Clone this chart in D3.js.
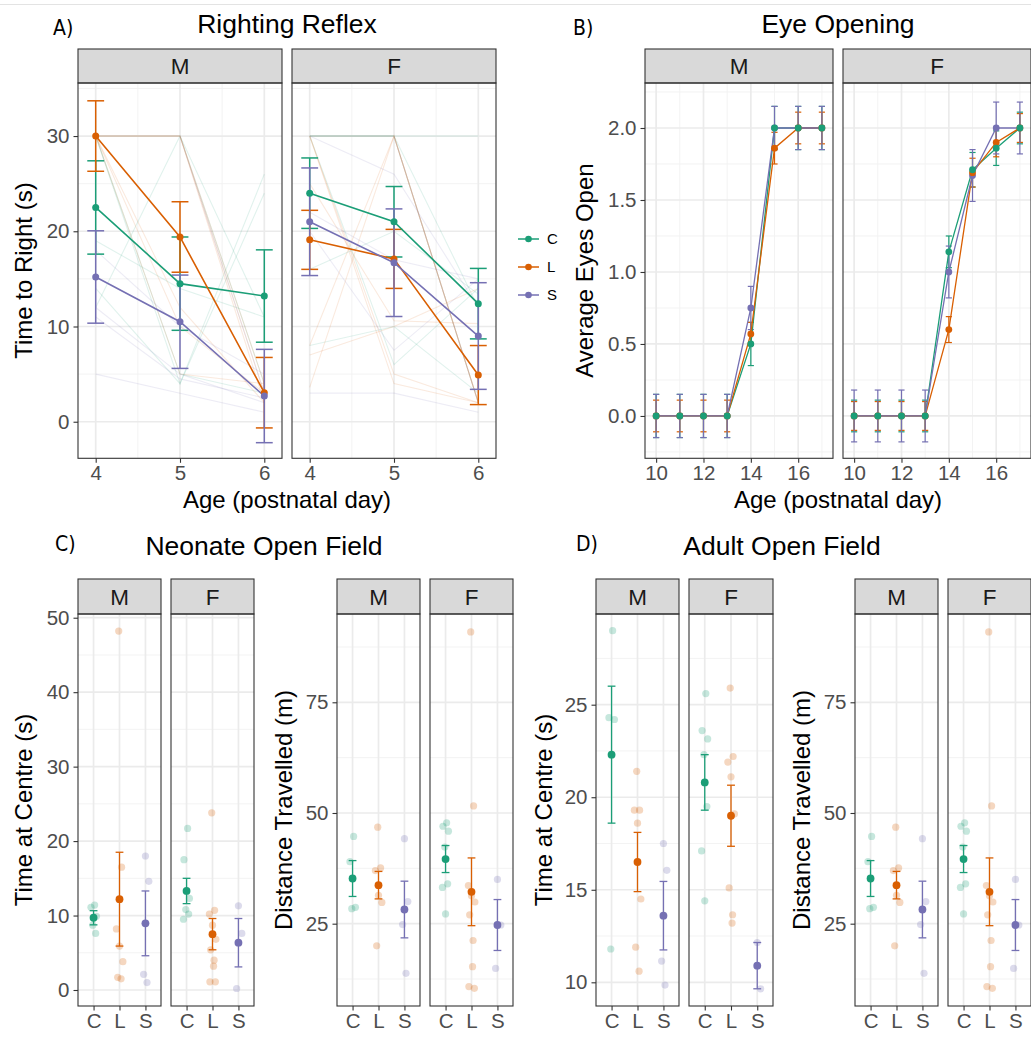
<!DOCTYPE html>
<html>
<head>
<meta charset="utf-8">
<script src="https://cdn.jsdelivr.net/npm/d3@7"></script>
<style>
  body { margin: 0; background: #fff; }
</style>
</head>
<body>
<script>
// groups and colours
const groups = ["C", "L", "S"];
const groupColors = ["#1b9e77", "#d95f02", "#7570b3"];

// A) Righting reflex - per group C, L, S at days 4, 5, 6
const rrDays = [4, 5, 6];
const rrMeanM = [[22.5, 14.5, 13.2], [30, 19.4, 3.05], [15.2, 10.5, 2.7]];
const rrSeM = [[4.9, 4.9, 4.85], [3.7, 3.7, 3.7], [4.85, 4.9, 4.9]];
const rrMeanF = [[24, 21, 12.4], [19.1, 17.1, 4.9], [21, 16.7, 9]];
const rrSeF = [[3.7, 3.7, 3.7], [3.1, 3.1, 3.1], [5.65, 5.65, 5.6]];
// individual pups (faint lines)
const rrPupsM = [
  [[30, 5, 3], [30, 4, 26], [30, 30, 11], [12, 30, 4], [19, 14, 11], [14, 4, 24]],
  [[30, 30, 2], [30, 30, 3], [30, 30, 4], [30, 12, 2], [30, 10, 3], [30, 5, 4]],
  [[5, 3, 1], [12, 5, 2], [30, 30, 3], [18, 10, 5], [11, 4.5, 2.5]]
];
const rrPupsF = [
  [[30, 30, 30], [30, 30, 2], [30, 30, 12], [30, 6, 14], [16, 20, 13.4], [8, 10, 3]],
  [[30, 30, 2], [30, 4, 2], [30, 5, 2], [8, 30, 2], [7, 10, 14], [3.6, 30, 2], [25, 10.6, 10.3]],
  [[30, 26, 12], [30, 30, 2], [3, 3, 1], [22, 17, 15], [20, 7.5, 15]]
];
const rrYTicks = [0, 10, 20, 30];
const rrXTicks = [4, 5, 6];

// B) Eye opening - days 10..17
const eoDays = [10, 11, 12, 13, 14, 15, 16, 17];
const eoMeanM = [
  [0, 0, 0, 0, 0.5, 2, 2, 2],
  [0, 0, 0, 0, 0.57, 1.86, 2, 2],
  [0, 0, 0, 0, 0.75, 2, 2, 2]
];
const eoSeM = [
  [0.15, 0.15, 0.15, 0.15, 0.15, 0.15, 0.15, 0.15],
  [0.11, 0.11, 0.11, 0.11, 0.08, 0.11, 0.11, 0.11],
  [0.15, 0.15, 0.15, 0.15, 0.15, 0.15, 0.15, 0.15]
];
const eoMeanF = [
  [0, 0, 0, 0, 1.14, 1.71, 1.86, 2],
  [0, 0, 0, 0, 0.6, 1.69, 1.9, 2],
  [0, 0, 0, 0, 1.0, 1.67, 2, 2]
];
const eoSeF = [
  [0.11, 0.11, 0.11, 0.11, 0.11, 0.12, 0.12, 0.11],
  [0.1, 0.1, 0.1, 0.1, 0.09, 0.1, 0.1, 0.1],
  [0.18, 0.18, 0.18, 0.18, 0.18, 0.18, 0.18, 0.18]
];
const eoYTicks = [0, 0.5, 1, 1.5, 2];
const eoXTicks = [10, 12, 14, 16];

// C) Neonate open field - time at centre
const neoTimeMeanM = [9.7, 12.2, 8.95];
const neoTimeSeM = [0.95, 6.3, 4.35];
const neoTimePtsM = [[11.4, 11.1, 9.9, 8.7, 7.6], [48.2, 16.5, 8.2, 5.9, 3.8, 1.7, 1.5], [18.0, 14.6, 2.1, 1.0]];
const neoTimeMeanF = [13.3, 7.5, 6.35];
const neoTimeSeF = [1.7, 2.1, 3.25];
const neoTimePtsF = [[21.7, 17.5, 12.3, 10.8, 10.2, 9.5], [23.8, 10.7, 10.2, 8.7, 6.8, 5.4, 4.0, 3.2, 1.1, 1.1], [11.3, 7.6, 0.2]];
// C) Neonate open field - distance travelled
const neoDistMeanM = [35.2, 33.7, 28.2];
const neoDistSeM = [4.05, 3.1, 6.4];
const neoDistPtsM = [[44.7, 39.0, 28.7, 28.4], [46.8, 37.6, 37.0, 31.4, 29.8, 20.0], [44.2, 30.0, 24.8, 13.8]];
const neoDistMeanF = [39.6, 32.2, 24.7];
const neoDistSeF = [3.05, 7.65, 5.75];
const neoDistPtsF = [[47.8, 47.0, 45.9, 42.3, 34.0, 33.2, 27.2], [90.9, 51.6, 33.6, 31.3, 29.9, 27.0, 21.2, 15.3, 10.8, 10.4], [35.0, 24.7, 14.9]];

// D) Adult open field - time at centre
const adTimeMeanM = [22.3, 16.5, 13.6];
const adTimeSeM = [3.7, 1.6, 1.85];
const adTimePtsM = [[29.0, 24.3, 24.2, 11.8], [21.4, 19.3, 19.3, 18.6, 14.5, 11.9, 10.6], [17.5, 16.05, 11.15, 9.85]];
const adTimeMeanF = [20.8, 19.0, 10.9];
const adTimeSeF = [1.5, 1.65, 1.25];
const adTimePtsF = [[25.6, 23.6, 23.15, 22.3, 19.5, 17.1, 14.4], [25.9, 22.2, 21.9, 21.1, 19.1, 15.1, 13.65, 13.2], [12.15, 9.65]];
// D) Adult open field - distance travelled
const adDistMeanM = [35.2, 33.7, 28.2];
const adDistSeM = [4.05, 3.1, 6.4];
const adDistPtsM = [[44.7, 39.0, 28.7, 28.4], [46.8, 37.6, 37.0, 31.4, 29.8, 20.0], [44.2, 30.0, 24.8, 13.8]];
const adDistMeanF = [39.6, 32.2, 24.7];
const adDistSeF = [3.05, 7.65, 5.75];
const adDistPtsF = [[47.8, 47.0, 45.9, 42.3, 34.0, 33.2, 27.2], [90.9, 51.6, 33.6, 31.3, 29.9, 27.0, 21.2, 15.3, 10.8, 10.4], [35.0, 24.7, 14.9]];

const jitterPattern = [0.04, -0.1, 0.11, -0.03, 0.08, -0.12, 0.0, 0.13, -0.07, 0.06];

const FONT = "'Liberation Sans', Arial, Helvetica, sans-serif";
const W = 1031, H = 1038;

const svg = d3.select("body").append("svg")
  .attr("width", W).attr("height", H)
  .style("font-family", FONT);

svg.append("line")
  .attr("x1", 0).attr("x2", W).attr("y1", 4.5).attr("y2", 4.5)
  .attr("stroke", "#e3e3e3").attr("stroke-width", 1.2);

// draw one facet panel: background, grid, strip, border and axes
function frame(o) {
  const g = svg.append("g");
  const inY = v => v >= o.y.domain()[0] && v <= o.y.domain()[1];
  g.append("rect")
    .attr("x", o.x0).attr("y", o.top)
    .attr("width", o.x1 - o.x0).attr("height", o.bottom - o.top)
    .attr("fill", "#fff");
  g.selectAll(".ymin").data(o.yMinor.filter(inY)).join("line")
    .attr("x1", o.x0).attr("x2", o.x1)
    .attr("y1", d => o.y(d)).attr("y2", d => o.y(d))
    .attr("stroke", "#f2f2f2").attr("stroke-width", 0.9);
  g.selectAll(".xmin").data(o.xMinor).join("line")
    .attr("x1", d => o.x(d)).attr("x2", d => o.x(d))
    .attr("y1", o.top).attr("y2", o.bottom)
    .attr("stroke", "#f2f2f2").attr("stroke-width", 0.9);
  g.selectAll(".ymaj").data(o.yMajor.filter(inY)).join("line")
    .attr("x1", o.x0).attr("x2", o.x1)
    .attr("y1", d => o.y(d)).attr("y2", d => o.y(d))
    .attr("stroke", "#ebebeb").attr("stroke-width", 1.7);
  g.selectAll(".xmaj").data(o.xMajor).join("line")
    .attr("x1", d => o.x(d)).attr("x2", d => o.x(d))
    .attr("y1", o.top).attr("y2", o.bottom)
    .attr("stroke", "#ebebeb").attr("stroke-width", 1.7);

  // strip
  g.append("rect")
    .attr("x", o.x0).attr("y", o.stripTop)
    .attr("width", o.x1 - o.x0).attr("height", o.top - o.stripTop)
    .attr("fill", "#d9d9d9").attr("stroke", "#333").attr("stroke-width", 1.1);
  g.append("text")
    .attr("x", (o.x0 + o.x1) / 2).attr("y", (o.stripTop + o.top) / 2)
    .attr("dy", "0.36em").attr("text-anchor", "middle")
    .attr("fill", "#1a1a1a").style("font-size", "22.5px")
    .text(o.label);

  // border
  g.append("rect")
    .attr("x", o.x0).attr("y", o.top)
    .attr("width", o.x1 - o.x0).attr("height", o.bottom - o.top)
    .attr("fill", "none").attr("stroke", "#333").attr("stroke-width", 1.1);

  const xa = g.append("g")
    .attr("transform", `translate(0,${o.bottom})`)
    .call(d3.axisBottom(o.x).tickValues(o.xMajor).tickFormat(o.xFmt).tickSize(4.5).tickPadding(3));
  styleAxis(xa);

  if (o.showY) {
    const ya = g.append("g")
      .attr("transform", `translate(${o.x0},0)`)
      .call(d3.axisLeft(o.y).tickValues(o.yMajor).tickFormat(o.yFmt).tickSize(4.5).tickPadding(4));
    styleAxis(ya);
  }
  return g;
}

function styleAxis(a) {
  a.select(".domain").remove();
  a.selectAll(".tick line").attr("stroke", "#333").attr("stroke-width", 1.1);
  a.selectAll(".tick text")
    .attr("fill", "#4d4d4d")
    .style("font-size", "20.5px")
    .style("font-family", FONT);
}

function errorbar(g, cx, yLo, yHi, half, color, sw) {
  g.append("line").attr("x1", cx).attr("x2", cx).attr("y1", yLo).attr("y2", yHi)
    .attr("stroke", color).attr("stroke-width", sw);
  [yLo, yHi].forEach(yy => g.append("line")
    .attr("x1", cx - half).attr("x2", cx + half).attr("y1", yy).attr("y2", yy)
    .attr("stroke", color).attr("stroke-width", sw));
}

function text(x, y, s, size, opts = {}) {
  const t = svg.append("text")
    .attr("x", x).attr("y", y)
    .attr("text-anchor", opts.anchor || "middle")
    .attr("fill", opts.fill || "#000")
    .style("font-size", size + "px")
    .text(s);
  if (opts.family) t.style("font-family", opts.family).style("font-stretch", "condensed");
  return t;
}

function yTitle(x, y, s) {
  svg.append("text")
    .attr("transform", `translate(${x},${y}) rotate(-90)`)
    .attr("text-anchor", "middle").attr("dy", "0.35em")
    .attr("fill", "#000").style("font-size", "24px")
    .text(s);
}

const TAG = "'DejaVu Sans Condensed', 'DejaVu Sans', sans-serif";

// ---------- A) Righting reflex ----------
(function () {
  const y = d3.scaleLinear().domain([-3.84, 35.57]).range([458.3, 83]);
  const specs = [
    { label: "M", x0: 78, x1: 282, mean: rrMeanM, se: rrSeM, pups: rrPupsM },
    { label: "F", x0: 292, x1: 496, mean: rrMeanF, se: rrSeF, pups: rrPupsF }
  ];
  specs.forEach((s, i) => {
    const x = d3.scaleLinear().domain([3.79, 6.21]).range([s.x0, s.x1]);
    frame({
      x0: s.x0, x1: s.x1, stripTop: 49, top: 83, bottom: 458.3, label: s.label,
      x, y, xMajor: rrXTicks, xMinor: [4.5, 5.5], yMajor: rrYTicks, yMinor: [5, 15, 25, 35],
      xFmt: d3.format("d"), yFmt: d3.format("d"), showY: i === 0
    });
    const g = svg.append("g");
    const line = d3.line().x((d, j) => x(rrDays[j])).y(d => y(d));
    s.pups.forEach((grp, gi) => grp.forEach(p => {
      g.append("path").attr("d", line(p)).attr("fill", "none")
        .attr("stroke", groupColors[gi]).attr("stroke-opacity", 0.13).attr("stroke-width", 1.1);
    }));
    const half = x(4.1) - x(4);
    s.mean.forEach((m, gi) => m.forEach((v, j) => {
      errorbar(g, x(rrDays[j]), y(v - s.se[gi][j]), y(v + s.se[gi][j]), half, groupColors[gi], 1.5);
    }));
    s.mean.forEach((m, gi) => {
      g.append("path").attr("d", line(m)).attr("fill", "none")
        .attr("stroke", groupColors[gi]).attr("stroke-width", 1.6);
    });
    s.mean.forEach((m, gi) => m.forEach((v, j) => {
      g.append("circle").attr("cx", x(rrDays[j])).attr("cy", y(v)).attr("r", 3.5)
        .attr("fill", groupColors[gi]);
    }));
  });
  text(287, 33, "Righting Reflex", 26.5);
  text(53, 35, "A)", 21, { anchor: "start", family: TAG });
  text(287, 508, "Age (postnatal day)", 24);
  yTitle(23.3, 270.6, "Time to Right (s)");
})();

// ---------- legend ----------
(function () {
  const g = svg.append("g");
  groups.forEach((k, i) => {
    const yy = 239 + i * 28;
    g.append("line").attr("x1", 518).attr("x2", 539).attr("y1", yy).attr("y2", yy)
      .attr("stroke", groupColors[i]).attr("stroke-width", 1.5);
    g.append("circle").attr("cx", 528.5).attr("cy", yy).attr("r", 3.3).attr("fill", groupColors[i]);
    g.append("text").attr("x", 547).attr("y", yy).attr("dy", "0.36em")
      .style("font-size", "15px").attr("fill", "#000").text(k);
  });
})();

// ---------- B) Eye opening ----------
(function () {
  const y = d3.scaleLinear().domain([-0.294, 2.3125]).range([458.3, 83]);
  const specs = [
    { label: "M", x0: 645, x1: 833, mean: eoMeanM, se: eoSeM },
    { label: "F", x0: 843, x1: 1031, mean: eoMeanF, se: eoSeF }
  ];
  specs.forEach((s, i) => {
    const x = d3.scaleLinear().domain([9.53, 17.47]).range([s.x0, s.x1]);
    frame({
      x0: s.x0, x1: s.x1, stripTop: 49, top: 83, bottom: 458.3, label: s.label,
      x, y, xMajor: eoXTicks, xMinor: [11, 13, 15, 17],
      yMajor: eoYTicks, yMinor: [-0.25, 0.25, 0.75, 1.25, 1.75, 2.25],
      xFmt: d3.format("d"), yFmt: d3.format(".1f"), showY: i === 0
    });
    const g = svg.append("g");
    const line = d3.line().x((d, j) => x(eoDays[j])).y(d => y(d));
    const half = x(10.13) - x(10);
    s.mean.forEach((m, gi) => m.forEach((v, j) => {
      errorbar(g, x(eoDays[j]), y(v - s.se[gi][j]), y(v + s.se[gi][j]), half, groupColors[gi], 1.2);
    }));
    s.mean.forEach((m, gi) => {
      g.append("path").attr("d", line(m)).attr("fill", "none")
        .attr("stroke", groupColors[gi]).attr("stroke-width", 1.3);
    });
    [2, 1, 0].forEach(gi => s.mean[gi].forEach((v, j) => {
      g.append("circle").attr("cx", x(eoDays[j])).attr("cy", y(v)).attr("r", 3.4)
        .attr("fill", groupColors[gi]);
    }));
  });
  text(838, 33, "Eye Opening", 26.5);
  text(573, 35, "B)", 21, { anchor: "start", family: TAG });
  text(838, 508, "Age (postnatal day)", 24);
  yTitle(584.7, 270.6, "Average Eyes Open");
})();

// ---------- C) and D) open field dot plots ----------
function dotPlot(cfg) {
  const y = d3.scaleLinear().domain(cfg.yDomain).range([1006, 614]);
  cfg.panels.forEach((p, i) => {
    const x = d3.scaleLinear().domain([0.4, 3.6]).range([p.x0, p.x1]);
    frame({
      x0: p.x0, x1: p.x1, stripTop: 579, top: 614, bottom: 1006, label: p.label,
      x, y, xMajor: [1, 2, 3], xMinor: [], yMajor: cfg.yMajor, yMinor: cfg.yMinor,
      xFmt: d => groups[d - 1], yFmt: d3.format("d"), showY: i === 0
    });
    const g = svg.append("g");
    p.pts.forEach((arr, gi) => arr.forEach((v, k) => {
      g.append("circle")
        .attr("cx", x(gi + 1 + jitterPattern[(k + gi * 3) % jitterPattern.length]))
        .attr("cy", y(v)).attr("r", 3.6)
        .attr("fill", groupColors[gi]).attr("fill-opacity", 0.25);
    }));
    const half = x(1.15) - x(1);
    p.mean.forEach((m, gi) => {
      errorbar(g, x(gi + 1), y(m - p.se[gi]), y(m + p.se[gi]), half, groupColors[gi], 1.3);
    });
    p.mean.forEach((m, gi) => {
      g.append("circle").attr("cx", x(gi + 1)).attr("cy", y(m)).attr("r", 3.9)
        .attr("fill", groupColors[gi]);
    });
  });
  yTitle(cfg.titleX, 810, cfg.yTitle);
}

dotPlot({
  yDomain: [-2.15, 50.5], yMajor: [0, 10, 20, 30, 40, 50], yMinor: [5, 15, 25, 35, 45],
  yTitle: "Time at Centre (s)", titleX: 23.3,
  panels: [
    { label: "M", x0: 78, x1: 161, mean: neoTimeMeanM, se: neoTimeSeM, pts: neoTimePtsM },
    { label: "F", x0: 171, x1: 254, mean: neoTimeMeanF, se: neoTimeSeF, pts: neoTimePtsF }
  ]
});
dotPlot({
  yDomain: [6.41, 94.94], yMajor: [25, 50, 75], yMinor: [12.5, 37.5, 62.5, 87.5],
  yTitle: "Distance Travelled (m)", titleX: 283.3,
  panels: [
    { label: "M", x0: 337, x1: 420, mean: neoDistMeanM, se: neoDistSeM, pts: neoDistPtsM },
    { label: "F", x0: 430, x1: 513, mean: neoDistMeanF, se: neoDistSeF, pts: neoDistPtsF }
  ]
});
dotPlot({
  yDomain: [8.72, 29.9], yMajor: [10, 15, 20, 25], yMinor: [12.5, 17.5, 22.5, 27.5],
  yTitle: "Time at Centre (s)", titleX: 543.3,
  panels: [
    { label: "M", x0: 596, x1: 679, mean: adTimeMeanM, se: adTimeSeM, pts: adTimePtsM },
    { label: "F", x0: 689, x1: 773, mean: adTimeMeanF, se: adTimeSeF, pts: adTimePtsF }
  ]
});
dotPlot({
  yDomain: [6.41, 94.94], yMajor: [25, 50, 75], yMinor: [12.5, 37.5, 62.5, 87.5],
  yTitle: "Distance Travelled (m)", titleX: 801.7,
  panels: [
    { label: "M", x0: 855, x1: 938, mean: adDistMeanM, se: adDistSeM, pts: adDistPtsM },
    { label: "F", x0: 948, x1: 1031, mean: adDistMeanF, se: adDistSeF, pts: adDistPtsF }
  ]
});

text(264, 555, "Neonate Open Field", 26.5);
text(55, 551, "C)", 21, { anchor: "start", family: TAG });
text(782, 555, "Adult Open Field", 26.5);
text(576, 551, "D)", 21, { anchor: "start", family: TAG });
</script>
</body>
</html>
